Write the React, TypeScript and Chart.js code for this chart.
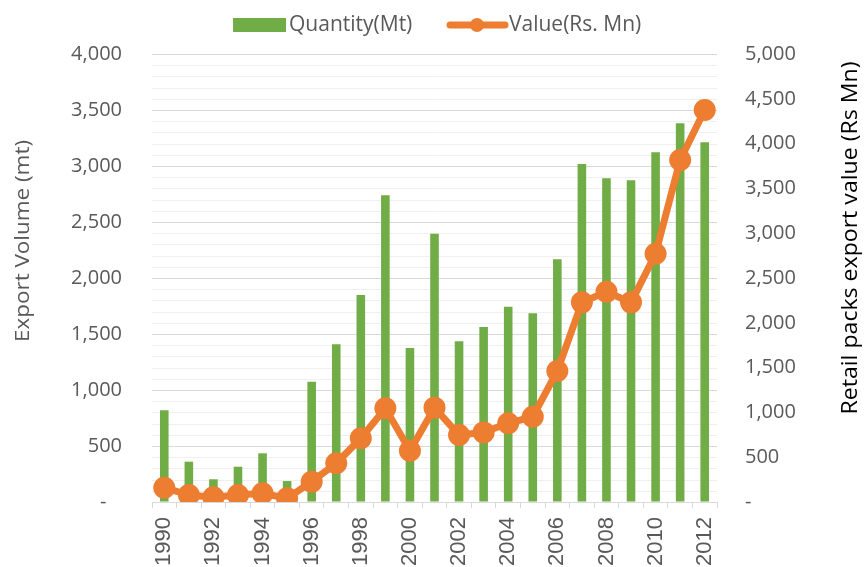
import React, { useEffect, useRef } from "react";
import { Chart, registerables } from "chart.js";

Chart.register(...registerables);

const years = ["1990","1991","1992","1993","1994","1995","1996","1997","1998","1999","2000","2001","2002","2003","2004","2005","2006","2007","2008","2009","2010","2011","2012"];
const quantityMt = [820, 360, 203, 315, 435, 187, 1074, 1408, 1848, 2738, 1375, 2396, 1435, 1562, 1744, 1685, 2167, 3018, 2890, 2872, 3122, 3381, 3211];
const valueRsMn = [160, 78, 52, 78, 97, 41, 227, 432, 711, 1046, 573, 1053, 748, 777, 878, 952, 1462, 2228, 2347, 2228, 2771, 3817, 4375];

const leftTitle = "Export Volume (mt)";
const rightTitle = "Retail packs export value (Rs Mn)";
const legendQty = "Quantity(Mt)";
const legendVal = "Value(Rs. Mn)";

const FONT = "'Open Sans', sans-serif";
const XFONT = "'Liberation Sans', Arial, sans-serif";
const GREEN = "#70AD47";
const ORANGE = "#ED7D31";
const GRAY = "#595959";

const fmt = (v: number) => (v === 0 ? "-" : v.toLocaleString("en-US"));

function drawFitText(ctx: any, text: string, cx: number, cy: number, font: string, color: string, length: number) {
  ctx.save();
  ctx.font = font;
  const w = ctx.measureText(text).width;
  ctx.translate(cx, cy);
  ctx.rotate(-Math.PI / 2);
  ctx.scale(length / w, 1);
  ctx.textAlign = "center";
  ctx.textBaseline = "middle";
  ctx.fillStyle = color;
  ctx.fillText(text, 0, 0);
  ctx.restore();
}

const extras = {
  id: "extras",
  beforeDatasetsDraw(chart: any) {
    const ctx = chart.ctx;
    const y = chart.scales.y;
    const area = chart.chartArea;
    ctx.save();
    ctx.strokeStyle = "#efefef";
    ctx.lineWidth = 1;
    for (let v = 100; v < 4000; v += 100) {
      if (v % 500 === 0) continue;
      const py = Math.round(y.getPixelForValue(v)) + 0.5;
      ctx.beginPath();
      ctx.moveTo(area.left, py);
      ctx.lineTo(area.right, py);
      ctx.stroke();
    }
    ctx.restore();
  },
  afterDraw(chart: any) {
    const ctx = chart.ctx;
    ctx.save();
    // legend
    ctx.fillStyle = GREEN;
    ctx.fillRect(233, 18, 53, 14);
    ctx.font = `21px ${FONT}`;
    ctx.fillStyle = GRAY;
    ctx.textBaseline = "middle";
    ctx.textAlign = "left";
    ctx.fillText(legendQty, 289, 25);
    ctx.strokeStyle = ORANGE;
    ctx.lineWidth = 7;
    ctx.lineCap = "round";
    ctx.beginPath();
    ctx.moveTo(450, 25);
    ctx.lineTo(505, 25);
    ctx.stroke();
    ctx.fillStyle = ORANGE;
    ctx.beginPath();
    ctx.arc(477, 25, 7, 0, Math.PI * 2);
    ctx.fill();
    ctx.fillStyle = GRAY;
    ctx.fillText(legendVal, 509, 25);
    ctx.restore();
    // axis titles
    drawFitText(ctx, leftTitle, 23, 241, `20px ${FONT}`, GRAY, 202);
    drawFitText(ctx, rightTitle, 851, 238, `22px ${FONT}`, "#000000", 353);
  },
};

export default function App() {
  const ref = useRef<HTMLCanvasElement | null>(null);
  useEffect(() => {
    if (!ref.current) return;
    const chart = new Chart(ref.current, {
      type: "bar",
      data: {
        labels: years,
        datasets: [
          {
            type: "line",
            label: legendVal,
            data: valueRsMn,
            yAxisID: "y1",
            borderColor: ORANGE,
            backgroundColor: ORANGE,
            borderWidth: 7,
            pointRadius: 11,
            pointBorderWidth: 0,
            pointBackgroundColor: ORANGE,
            tension: 0,
            order: 0,
          } as any,
          {
            type: "bar",
            label: legendQty,
            data: quantityMt,
            yAxisID: "y",
            backgroundColor: GREEN,
            barPercentage: 0.35,
            categoryPercentage: 1,
            order: 1,
          },
        ],
      },
      options: {
        animation: false,
        responsive: false,
        maintainAspectRatio: false,
        layout: { padding: { top: 54, left: 0, right: 0, bottom: 0 } },
        plugins: { legend: { display: false }, tooltip: { enabled: false } },
        scales: {
          x: {
            type: "category",
            offset: true,
            grid: {
              drawOnChartArea: false,
              drawTicks: true,
              tickLength: 6,
              color: "#d9d9d9",
              offset: true,
            },
            border: { display: true, color: "#d9d9d9" },
            ticks: {
              autoSkip: false,
              maxRotation: 90,
              minRotation: 90,
              padding: 9,
              color: GRAY,
              font: { family: XFONT, size: 22 },
              callback: (_v: any, i: number) => (i % 2 === 0 ? years[i] : ""),
            },
            afterFit: (s: any) => {
              s.height = 65;
            },
          },
          y: {
            position: "left",
            min: 0,
            max: 4000,
            grid: { color: "#d9d9d9", drawTicks: false },
            border: { display: false },
            ticks: {
              stepSize: 500,
              padding: 30,
              color: GRAY,
              font: { family: FONT, size: 20 },
              callback: (v: any) => (v === 0 ? "-   " : fmt(v)),
            },
            afterFit: (s: any) => {
              s.width = 152;
            },
          },
          y1: {
            position: "right",
            min: 0,
            max: 5000,
            grid: { drawOnChartArea: false, drawTicks: false },
            border: { display: false },
            ticks: {
              stepSize: 500,
              padding: 28,
              color: GRAY,
              font: { family: FONT, size: 20 },
              callback: (v: any) => fmt(v),
            },
            afterFit: (s: any) => {
              s.width = 148;
            },
          },
        },
      },
      plugins: [extras],
    });
    return () => chart.destroy();
  }, []);
  return (
    <div style={{ position: "fixed", left: 0, top: 0, width: 865, height: 567, background: "#fff" }}>
      <canvas ref={ref} width={865} height={567} />
    </div>
  );
}
